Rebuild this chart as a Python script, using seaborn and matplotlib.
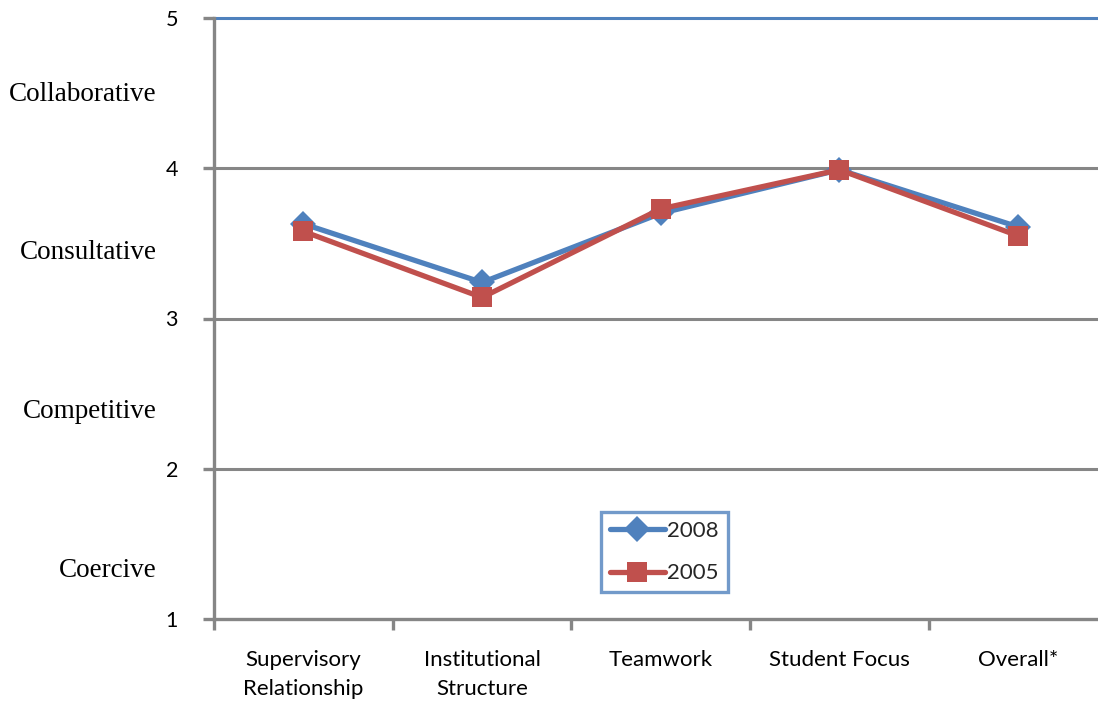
import matplotlib
matplotlib.use("Agg")
import matplotlib.pyplot as plt
import matplotlib.transforms as mtransforms
import seaborn as sns
import pandas as pd

# Climate dimension scores by survey year
categories = ["Supervisory\nRelationship", "Institutional\nStructure", "Teamwork",
              "Student Focus", "Overall*"]
scores_2008 = [3.63, 3.24, 3.70, 3.99, 3.61]
scores_2005 = [3.58, 3.14, 3.73, 3.99, 3.55]
years = ["2008", "2005"]
yticks = [1, 2, 3, 4, 5]
style_labels = ["Collaborative", "Consultative", "Competitive", "Coercive"]
style_label_y = [4.49, 3.44, 2.38, 1.32]

BLUE = "#4F81BD"
RED = "#C0504D"
GRAY = "#868686"

df = pd.DataFrame({
    "Dimension": categories * 2,
    "Score": scores_2008 + scores_2005,
    "Year": [years[0]] * len(categories) + [years[1]] * len(categories),
})

sns.set_theme(style="white")
plt.rcParams["font.family"] = ["Lato", "DejaVu Sans"]

fig = plt.figure(figsize=(10.98, 7.03), dpi=100)
ax = fig.add_axes([214 / 1098, 84 / 703, 893.5 / 1098, 601 / 703])

sns.lineplot(
    data=df, x="Dimension", y="Score", hue="Year", style="Year",
    hue_order=years, style_order=years,
    palette={"2008": BLUE, "2005": RED},
    markers={"2008": "D", "2005": "s"}, dashes=False,
    markersize=15, linewidth=3.8, markeredgewidth=0,
    sort=False, ax=ax, legend=True, zorder=3,
)
for line in ax.lines:
    if line.get_marker() == "D":
        line.set_markersize(13)

ax.set_xlim(-0.5, 4.5)
ax.set_ylim(1, 5)
ax.set_xticks(range(len(categories)), categories, linespacing=1.6)
ax.set_yticks(yticks, [str(t) for t in yticks])
ax.set_xlabel("")
ax.set_ylabel("")

# gridlines
for y in [2, 3, 4]:
    ax.axhline(y, color=GRAY, lw=2.2, zorder=1)
ax.axhline(5, color=BLUE, lw=2.2, zorder=1, clip_on=False)

for side in ["top", "right"]:
    ax.spines[side].set_visible(False)
for side in ["left", "bottom"]:
    ax.spines[side].set_color(GRAY)
    ax.spines[side].set_linewidth(2.4)

# category boundary ticks on x, value ticks on y
ax.set_xticks([i + 0.5 for i in range(-1, 5)], minor=True)
ax.tick_params(axis="x", which="major", bottom=True, length=0, pad=22,
               labelsize=16, labelcolor="black")
ax.tick_params(axis="x", which="minor", bottom=True, length=8, width=2.4,
               color=GRAY, direction="out")
ax.tick_params(axis="y", which="major", left=True, length=8, width=2.4,
               color=GRAY, direction="out", pad=18, labelsize=15.5,
               labelcolor="black")

# qualitative style labels alongside the value axis
trans = mtransforms.blended_transform_factory(ax.transAxes, ax.transData)
for text, y in zip(style_labels, style_label_y):
    ax.text(-0.064, y, text, transform=trans, ha="right", va="center",
            fontsize=19.5, family="Liberation Serif", color="black")

leg = ax.legend(loc="center", bbox_to_anchor=(0.504, 0.111), frameon=True,
                fontsize=16, handlelength=2.5, handletextpad=0.1,
                borderpad=0.4, labelspacing=1.0, borderaxespad=0,
                fancybox=False)
leg.get_frame().set_edgecolor(BLUE)
leg.get_frame().set_linewidth(2.4)

fig.savefig("out.png", dpi=100)
